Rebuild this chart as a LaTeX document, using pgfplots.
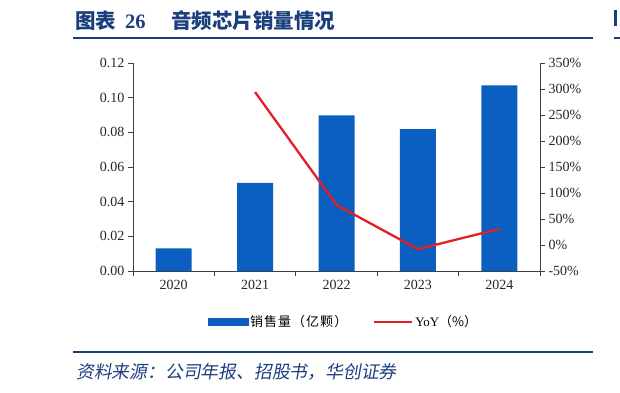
\documentclass[border=0pt]{standalone}
\usepackage{fontspec}
\setmainfont{Liberation Serif}
\newfontfamily\cjk{Noto Sans CJK SC}
\newfontfamily\cjkit[FakeSlant=0.18]{Noto Sans CJK SC}
\newfontfamily\cjksp[LetterSpace=8]{Noto Sans CJK SC}
\usepackage{pgfplots}
\pgfplotsset{compat=1.18}
\definecolor{navy}{HTML}{1B3F7C}
\definecolor{barblue}{HTML}{0A5FC0}
\definecolor{linered}{HTML}{E41E26}
\definecolor{axgray}{HTML}{404040}
\begin{document}
\begin{tikzpicture}[x=1pt,y=1pt]
\useasboundingbox (0,0) rectangle (620,392);
% header
\node[anchor=west, inner sep=0pt, text=navy, font=\fontsize{20.5}{20.5}\selectfont\bfseries] at (75,371.5) {\cjk 图表\hspace{9pt}\rmfamily 26};
\node[anchor=west, inner sep=0pt, text=navy, font=\fontsize{20.5}{20.5}\selectfont\bfseries] at (171,371.5) {\cjk 音频芯片销量情况};
\draw[navy, line width=2pt] (73,354.5) -- (593,354.5);
\fill[navy] (614,366) rectangle (617,382);
\draw[navy, line width=2pt] (614,354.5) -- (620,354.5);
% footer
\draw[navy, line width=2pt] (73,40) -- (593,40);
\node[anchor=west, inner sep=0pt, text=navy, font=\fontsize{17.8}{17.8}\selectfont] at (76,20) {\cjkit 资料来源：公司年报、招股书，华创证券};
\begin{axis}[
  at={(133pt,121pt)}, anchor=south west, scale only axis,
  width=407pt, height=208pt,
  xmin=-0.5, xmax=4.5, ymin=0, ymax=0.12,
  axis y line*=left, axis x line*=bottom,
  axis line style={axgray, line width=0.8pt},
  xtick={0,1,2,3,4}, xticklabels={2020,2021,2022,2023,2024},
  minor xtick={-0.5,0.5,1.5,2.5,3.5,4.5},
  major x tick style={draw=none},
  minor tick length=5pt,
  ytick={0,0.02,0.04,0.06,0.08,0.10,0.12},
  tick align=outside, major tick length=5pt,
  tick style={axgray, line width=0.8pt},
  yticklabel style={/pgf/number format/fixed, /pgf/number format/fixed zerofill, /pgf/number format/precision=2},
  /pgf/number format/assume math mode=true,
  tick label style={font=\fontsize{14}{14}\selectfont, text=black!85},
  xticklabel style={yshift=-1pt},
  clip=false,
]
\addplot[ybar, bar width=36pt, fill=barblue, draw=none] coordinates {(0,0.0131) (1,0.0508) (2,0.0898) (3,0.0819) (4,0.1071)};
\end{axis}
\begin{axis}[
  at={(133pt,121pt)}, anchor=south west, scale only axis,
  width=407pt, height=208pt,
  xmin=-0.5, xmax=4.5, ymin=-50, ymax=350,
  axis y line*=right, axis x line=none,
  axis line style={axgray, line width=0.8pt},
  ytick={-50,0,50,100,150,200,250,300,350},
  yticklabel={\pgfmathprintnumber{\tick}\%},
  /pgf/number format/assume math mode=true,
  tick align=outside, major tick length=5pt,
  tick style={axgray, line width=0.8pt},
  tick label style={font=\fontsize{14}{14}\selectfont, text=black!85},
  clip=false,
  legend style={at={(rel axis cs:0.517,-0.245)}, anchor=center, draw=none, fill=none,
    legend columns=2, font=\fontsize{13}{13}\selectfont,
    /tikz/every even column/.append style={column sep=24pt}},
  legend cell align=left,
]
\addlegendimage{legend image code/.code={\fill[barblue] (0pt,-3.5pt) rectangle (40pt,3.5pt);}}
\addlegendentry{\cjksp 销售量（亿颗）}
\addplot[linered, line width=2.3pt, mark=none,
  legend image code/.code={\draw[linered, line width=2pt] (0pt,0pt) -- (38pt,0pt);}]
  coordinates {(1,294) (2,77) (3,-8) (4,31)};
\addlegendentry{YoY{\cjk（\%）}}
\end{axis}
\end{tikzpicture}
\end{document}
